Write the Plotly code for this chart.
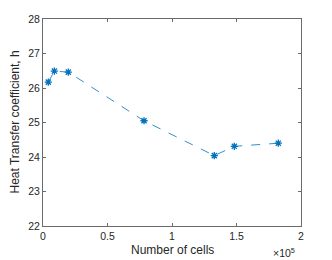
import plotly.graph_objects as go

cells = [4100, 8800, 19600, 78300, 132800, 148300, 182400]
h_coeff = [26.17, 26.49, 26.46, 25.05, 24.04, 24.31, 24.40]
x_ticks = [0, 50000, 100000, 150000, 200000]
x_tick_labels = ["0", "0.5", "1", "1.5", "2"]
y_ticks = [22, 23, 24, 25, 26, 27, 28]

# the page body adds an 8px offset, so the figure is sized to fit the window after it
OFF = 8
W, H = 332 - OFF, 260 - OFF
ML, MR, MT, MB = 43 - OFF, 31, 19 - OFF, 34
PW, PH = W - ML - MR, H - MT - MB
BOTTOM = H - MB  # figure-pixel y of the plot bottom


def px_x(sx):
    return (sx - OFF - ML) / PW


def px_y(sy):
    return (BOTTOM - (sy - OFF)) / PH


line_color = "#0072BD"
axis_color = "#6b6b6b"
text_color = "#262626"
font = dict(family="Liberation Sans, Arial, sans-serif", size=10.5, color=text_color)

fig = go.Figure()
fig.add_trace(go.Scatter(
    x=cells, y=h_coeff, mode="lines+markers",
    line=dict(color=line_color, width=0.8, dash="dash"),
    marker=dict(symbol="asterisk-open", size=6, color=line_color,
                line=dict(color=line_color, width=1.3)),
    showlegend=False,
))

fig.update_layout(
    width=W, height=H,
    margin=dict(l=ML, r=MR, t=MT, b=MB),
    paper_bgcolor="white", plot_bgcolor="white",
    font=font,
    xaxis=dict(range=[0, 200000], tickvals=x_ticks, ticktext=x_tick_labels,
               ticks="inside", ticklen=3, tickcolor=axis_color,
               showline=True, linecolor=axis_color, linewidth=1, mirror="ticks",
               showgrid=False, zeroline=False, automargin=False),
    yaxis=dict(range=[22, 28], tickvals=y_ticks,
               ticks="inside", ticklen=3, tickcolor=axis_color,
               showline=True, linecolor=axis_color, linewidth=1, mirror="ticks",
               showgrid=False, zeroline=False, automargin=False),
)
fig.add_annotation(x=0.5, y=px_y(250), xref="paper", yref="paper",
                   xanchor="center", yanchor="middle", showarrow=False,
                   text="Number of cells", font=dict(size=12, color=text_color))
fig.add_annotation(x=px_x(14), y=0.5, xref="paper", yref="paper",
                   xanchor="center", yanchor="middle", textangle=-90, showarrow=False,
                   text="Heat Transfer coefficient, h", font=dict(size=12, color=text_color))
fig.add_annotation(x=px_x(284), y=px_y(252), xref="paper", yref="paper",
                   xanchor="center", yanchor="middle", showarrow=False,
                   text="×10<sup>5</sup>", font=dict(size=10.5, color=text_color))

fig.write_html("out.html")
